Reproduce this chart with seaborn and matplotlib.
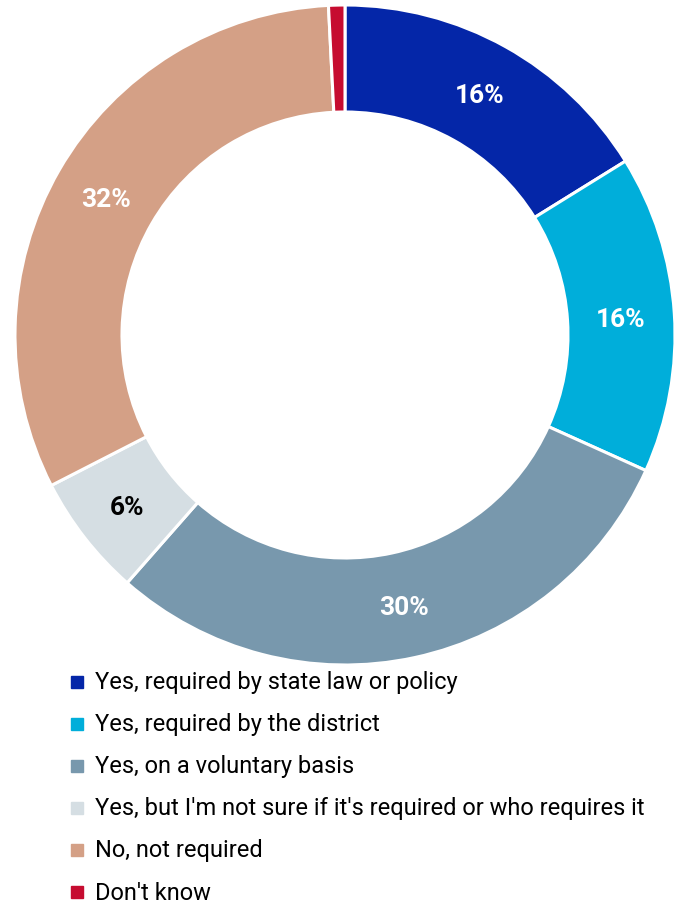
import matplotlib
matplotlib.use("Agg")
import matplotlib.pyplot as plt
import numpy as np
import seaborn as sns

categories = [
    "Yes, required by state law or policy",
    "Yes, required by the district",
    "Yes, on a voluntary basis",
    "Yes, but I'm not sure if it's required or who requires it",
    "No, not required",
    "Don't know",
]
shares = [16.2, 15.6, 29.8, 6.0, 31.8, 0.8]
colors = ["#0426A8", "#00AEDA", "#7898AD", "#D5DEE3", "#D4A086", "#C60C30"]
label_colors = ["white", "white", "white", "black", "white", None]

sns.set_theme(style="white")
plt.rcParams["font.family"] = ["Roboto", "DejaVu Sans"]

W, H = 674, 907
fig = plt.figure(figsize=(W / 100, H / 100), dpi=100)
ax = fig.add_axes([0, 0, 1, 1])

# donut centred in pixel units
cx, cy, R, ring = 345, H - 335, 330, 107
ax.pie(
    shares,
    colors=colors,
    startangle=90,
    counterclock=False,
    center=(cx, cy),
    radius=R,
    wedgeprops=dict(width=ring, edgecolor="white", linewidth=2.2),
    frame=True,
)
ax.set_xlim(0, W)
ax.set_ylim(0, H)
ax.set_aspect("equal")
ax.axis("off")

# percentage labels in the middle of the ring
total = sum(shares)
start = 90.0
for val, tc in zip(shares, label_colors):
    ang = start - 360 * val / total / 2
    start -= 360 * val / total
    if tc is None:
        continue
    r = R - ring / 2
    x = cx + r * np.cos(np.radians(ang))
    y = cy + r * np.sin(np.radians(ang)) - 3
    ax.text(x, y, f"{round(val):.0f}%", ha="center", va="center",
            color=tc, fontsize=19, fontweight="bold")

# legend rows
for i, (lab, col) in enumerate(zip(categories, colors)):
    y = H - (683 + i * 42)
    ax.plot([77], [y + 1], marker="s", markersize=8, color=col, linestyle="none")
    ax.text(95, y, lab, ha="left", va="center", fontsize=17, color="black")

fig.savefig("out.png", dpi=100)
